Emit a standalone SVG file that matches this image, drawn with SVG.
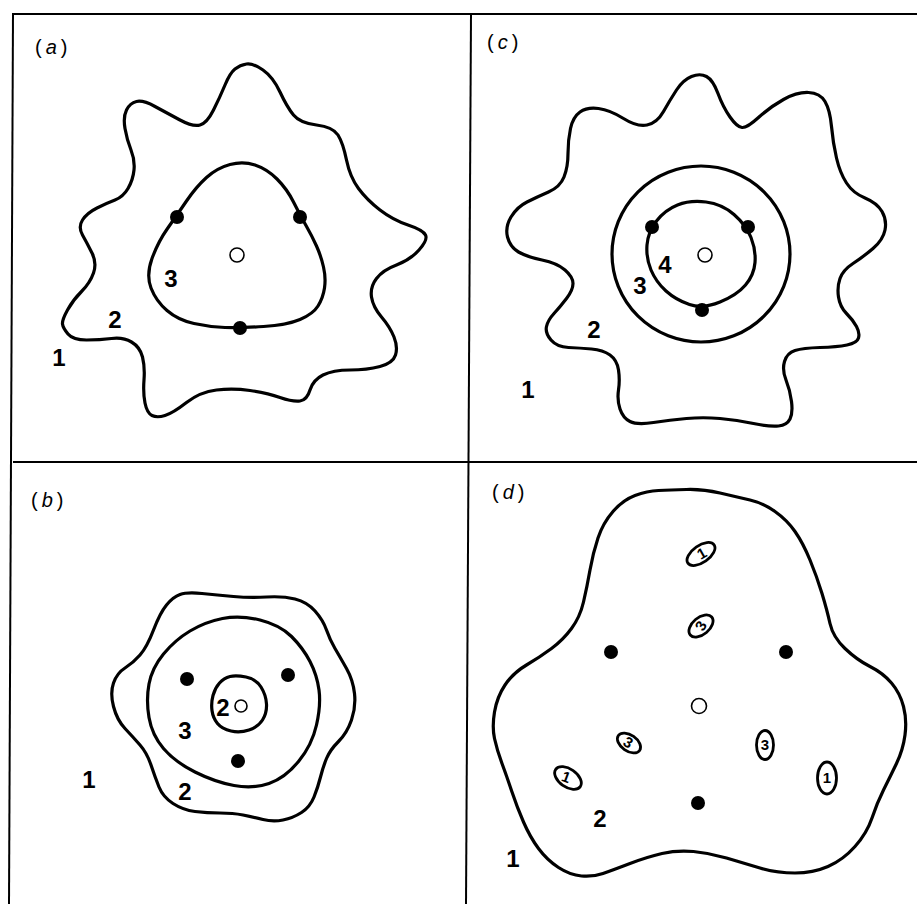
<svg xmlns="http://www.w3.org/2000/svg" width="917" height="904" viewBox="0 0 917 904">
<style>
.frame{stroke:#000;stroke-width:2;fill:none}
.c{stroke:#000;stroke-width:3.2;fill:none;stroke-linejoin:round}
.e{stroke:#000;stroke-width:2.8;fill:#fff}
.dot{fill:#000}
.open{fill:#fff;stroke:#000;stroke-width:1.6}
.num{font-family:"Liberation Sans",Arial,sans-serif;font-weight:bold;font-size:24px;fill:#000;text-anchor:middle}
.sm{font-family:"Liberation Sans",Arial,sans-serif;font-weight:bold;font-size:15px;fill:#000;text-anchor:middle}
.lab{font-family:"Liberation Sans",Arial,sans-serif;font-size:20px;fill:#000}
</style>
<rect width="917" height="904" fill="#fff"/>
<g id="frame">
<line class="frame" x1="13" y1="14" x2="917" y2="14"/>
<line class="frame" x1="13" y1="13" x2="9" y2="904"/>
<line class="frame" x1="13" y1="462" x2="917" y2="462"/>
<line class="frame" x1="471" y1="14" x2="466" y2="904"/>
</g>
<g id="connectors"/>
<g id="panel-a">
<text class="lab" x="35" y="54">(<tspan font-style="italic" dx="4">a</tspan><tspan dx="4">)</tspan></text>
<path class="c" d="M 246.5,64 Q 253,63 263,70 Q 273,77 280,92 Q 287,107 293.5,115 Q 300,123 316.5,125 Q 333,127 338,135 Q 343,143 346.5,160 Q 350,177 358.5,188.5 Q 367,200 380,210 Q 393,220 408,225 Q 423,230 425.5,235 Q 428,240 419,250 Q 410,260 396.5,265 Q 383,270 376.5,278.5 Q 370,287 371.5,297 Q 373,307 381.5,317 Q 390,327 394,337 Q 398,347 395.5,355 Q 393,363 380,366.5 Q 367,370 350,370 Q 333,370 323,375 Q 313,380 310,390 Q 307,400 300,401 Q 293,402 280,397.5 Q 267,393 250,390.5 Q 233,388 216.5,390 Q 200,392 186.5,402.5 Q 173,413 165,415.5 Q 157,418 152,415.5 Q 147,413 145,403 Q 143,393 144,380 Q 145,367 142.5,357 Q 140,347 131.5,342 Q 123,337 111.5,338.5 Q 100,340 86.5,340 Q 73,340 68,334 Q 63,328 62.5,324 Q 62,320 67.5,310 Q 73,300 81.5,291.5 Q 90,283 93.5,273 Q 97,263 92,253 Q 87,243 82.5,235 Q 78,227 82.5,220 Q 87,213 97,208 Q 107,203 115,200 Q 123,197 128,188.5 Q 133,180 134,170 Q 135,160 131,150 Q 127,140 125,128.5 Q 123,117 126.5,110 Q 130,103 136.5,101.5 Q 143,100 155,106.5 Q 167,113 180,120 Q 193,127 200,125 Q 207,123 213.5,110 Q 220,97 225,85 Q 230,73 235,69 Q 240,65 246.5,64 Z"/>
<path class="c" d="M 230,164.5 Q 243,161 255,165 Q 267,169 277,179 Q 287,189 293.5,202 Q 300,215 306,225.5 Q 312,236 316.5,246 Q 321,256 323.5,267 Q 326,278 324.5,288 Q 323,298 318,306 Q 313,314 300,319.5 Q 287,325 263.5,326.5 Q 240,328 225,327.5 Q 210,327 194,323.5 Q 178,320 167,310.5 Q 156,301 151,288 Q 146,275 152,258.5 Q 158,242 167.5,228.5 Q 177,215 186.5,201 Q 196,187 206.5,177.5 Q 217,168 230,164.5 Z"/>
<circle class="dot" cx="177" cy="217" r="7"/>
<circle class="dot" cx="300" cy="217" r="7"/>
<circle class="dot" cx="240" cy="328" r="7"/>
<circle class="open" cx="237" cy="255" r="7"/>
<text class="num" x="171" y="287">3</text>
<text class="num" x="115" y="328">2</text>
<text class="num" x="59" y="366">1</text>
</g>
<g id="panel-c">
<text class="lab" x="487" y="49">(<tspan font-style="italic" dx="4">c</tspan><tspan dx="4">)</tspan></text>
<path class="c" d="M 691.5,76.5 Q 700,73 706.5,76.5 Q 713,80 718,93.5 Q 723,107 730,117 Q 737,127 742,127.5 Q 747,128 758.5,117.5 Q 770,107 783.5,99.5 Q 797,92 808.5,92.5 Q 820,93 825,101.5 Q 830,110 831.5,126.5 Q 833,143 836.5,158 Q 840,173 846.5,183 Q 853,193 865,198 Q 877,203 882,211.5 Q 887,220 885,230 Q 883,240 873,248.5 Q 863,257 853,263.5 Q 843,270 840,278.5 Q 837,287 838.5,297 Q 840,307 846.5,313.5 Q 853,320 856.5,326.5 Q 860,333 858.5,338 Q 857,343 847,345 Q 837,347 820,347.5 Q 803,348 795,350.5 Q 787,353 784.5,361.5 Q 782,370 786,380 Q 790,390 791.5,401.5 Q 793,413 790,419 Q 787,425 778.5,426 Q 770,427 753.5,423.5 Q 737,420 720,418.5 Q 703,417 686.5,418.5 Q 670,420 653.5,422.5 Q 637,425 630,421.5 Q 623,418 620,409 Q 617,400 618.5,390 Q 620,380 618.5,370 Q 617,360 610,355 Q 603,350 591.5,349 Q 580,348 568.5,347.5 Q 557,347 551,340 Q 545,333 546.5,326.5 Q 548,320 554,313.5 Q 560,307 566.5,298.5 Q 573,290 573,283.5 Q 573,277 565,270 Q 557,263 542,260 Q 527,257 518.5,252 Q 510,247 507.5,237 Q 505,227 511,217 Q 517,207 527,202 Q 537,197 548.5,192 Q 560,187 564,177 Q 568,167 568,153.5 Q 568,140 570.5,128.5 Q 573,117 580,112 Q 587,107 598.5,108.5 Q 610,110 623.5,118.5 Q 637,127 647,125 Q 657,123 663.5,111.5 Q 670,100 676.5,90 Q 683,80 691.5,76.5 Z"/>
<ellipse class="c" cx="701" cy="254" rx="89" ry="88"/>
<path class="c" d="M 677.5,205 Q 690,200 706,202 Q 722,204 734,214.5 Q 746,225 751,237.5 Q 756,250 755,262.5 Q 754,275 745.5,285 Q 737,295 720,302 Q 703,309 689.5,304.5 Q 676,300 666,291 Q 656,282 651,270 Q 646,258 647,245 Q 648,232 656.5,221 Q 665,210 677.5,205 Z"/>
<circle class="dot" cx="652" cy="227" r="7"/>
<circle class="dot" cx="748" cy="227" r="7"/>
<circle class="dot" cx="702" cy="310" r="7"/>
<circle class="open" cx="705" cy="255" r="7"/>
<text class="num" x="665" y="273">4</text>
<text class="num" x="640" y="294">3</text>
<text class="num" x="594" y="338">2</text>
<text class="num" x="528" y="398">1</text>
</g>
<g id="panel-b">
<text class="lab" x="31" y="507">(<tspan font-style="italic" dx="4">b</tspan><tspan dx="4">)</tspan></text>
<path class="c" d="M 180,594.5 Q 187,592 202,593.5 Q 217,595 233.5,596.5 Q 250,598 266.5,597 Q 283,596 295,599 Q 307,602 315,611 Q 323,620 326.5,630 Q 330,640 335,648.5 Q 340,657 346.5,668.5 Q 353,680 354.5,693.5 Q 356,707 351.5,720 Q 347,733 338.5,741.5 Q 330,750 326.5,758.5 Q 323,767 320.5,777 Q 318,787 314,797 Q 310,807 301.5,812.5 Q 293,818 283,820 Q 273,822 263,819.5 Q 253,817 243,815 Q 233,813 220,813 Q 207,813 195,811.5 Q 183,810 173,803.5 Q 163,797 159,787 Q 155,777 151,765 Q 147,753 140,745 Q 133,737 125,728.5 Q 117,720 113.5,706.5 Q 110,693 113.5,683 Q 117,673 125,668 Q 133,663 140,655 Q 147,647 153.5,630 Q 160,613 166.5,605 Q 173,597 180,594.5 Z"/>
<path class="c" d="M 222.5,618.5 Q 240,615 260,620 Q 280,625 291.5,636.5 Q 303,648 310,661.5 Q 317,675 319,690 Q 321,705 316.5,725 Q 312,745 298.5,761.5 Q 285,778 269,783.5 Q 253,789 234,785.5 Q 215,782 195,772 Q 175,762 163.5,748.5 Q 152,735 149,717.5 Q 146,700 149,684 Q 152,668 163.5,654 Q 175,640 190,631 Q 205,622 222.5,618.5 Z"/>
<path class="c" d="M 230,676.5 Q 236,675 246,677 Q 256,679 261,687 Q 266,695 266.5,704 Q 267,713 262.5,720 Q 258,727 249,730 Q 240,733 231,731 Q 222,729 217.5,723.5 Q 213,718 212,710.5 Q 211,703 213,695.5 Q 215,688 219.5,683 Q 224,678 230,676.5 Z"/>
<circle class="dot" cx="187" cy="679" r="7"/>
<circle class="dot" cx="288" cy="675" r="7"/>
<circle class="dot" cx="238" cy="761" r="7"/>
<circle class="open" cx="241" cy="706" r="6"/>
<text class="num" x="223" y="716">2</text>
<text class="num" x="185" y="739">3</text>
<text class="num" x="185" y="800">2</text>
<text class="num" x="89" y="788">1</text>
</g>
<g id="panel-d">
<text class="lab" x="492" y="499">(<tspan font-style="italic" dx="4">d</tspan><tspan dx="4">)</tspan></text>
<path class="c" d="M 658.5,490.5 Q 670,490 686.5,489.5 Q 703,489 720,493 Q 737,497 750,500 Q 763,503 775,511.5 Q 787,520 795,531.5 Q 803,543 810,560 Q 817,577 822,593.5 Q 827,610 830,623.5 Q 833,637 845,648.5 Q 857,660 870,666.5 Q 883,673 891.5,683 Q 900,693 903.5,706.5 Q 907,720 905,735 Q 903,750 896.5,763.5 Q 890,777 883.5,790 Q 877,803 872,818 Q 867,833 855,846.5 Q 843,860 828,866.5 Q 813,873 795,873 Q 777,873 760,868 Q 743,863 726.5,858 Q 710,853 693.5,851.5 Q 677,850 662,853.5 Q 647,857 630,863.5 Q 613,870 603,873.5 Q 593,877 581.5,876 Q 570,875 558.5,867.5 Q 547,860 538.5,848.5 Q 530,837 523.5,822 Q 517,807 512,792 Q 507,777 502,763.5 Q 497,750 494.5,738.5 Q 492,727 494.5,712 Q 497,697 505,685 Q 513,673 526.5,665 Q 540,657 551.5,648.5 Q 563,640 571.5,628.5 Q 580,617 583.5,602 Q 587,587 590,570 Q 593,553 598,538 Q 603,523 613,511.5 Q 623,500 635,495.5 Q 647,491 658.5,490.5 Z"/>
<circle class="dot" cx="611" cy="652" r="7"/>
<circle class="dot" cx="786" cy="652" r="7"/>
<circle class="dot" cx="698" cy="803" r="7"/>
<circle class="open" cx="699" cy="706" r="7.5"/>
<g id="d-e1"><ellipse class="e" cx="701" cy="554" rx="16" ry="8.5" transform="rotate(-35 701 554)"/><text class="sm" x="702" y="559" transform="rotate(-30 701 554)">1</text></g>
<g id="d-e2"><ellipse class="e" cx="701" cy="626" rx="14" ry="8.5" transform="rotate(-40 701 626)"/><text class="sm" x="701" y="631" transform="rotate(-60 701 626)">3</text></g>
<g id="d-e3"><ellipse class="e" cx="629" cy="743" rx="13" ry="8" transform="rotate(35 629 743)"/><text class="sm" x="628" y="748" transform="rotate(30 629 743)">3</text></g>
<g id="d-e4"><ellipse class="e" cx="765" cy="745" rx="8.5" ry="14.5"/><text class="sm" x="765" y="750">3</text></g>
<g id="d-e5"><ellipse class="e" cx="568" cy="778" rx="15" ry="9" transform="rotate(35 568 778)"/><text class="sm" x="566" y="783" transform="rotate(20 568 778)">1</text></g>
<g id="d-e6"><ellipse class="e" cx="827" cy="778" rx="9.5" ry="16"/><text class="sm" x="827" y="783">1</text></g>
<text class="num" x="600" y="827">2</text>
<text class="num" x="513" y="867">1</text>
</g>
</svg>
